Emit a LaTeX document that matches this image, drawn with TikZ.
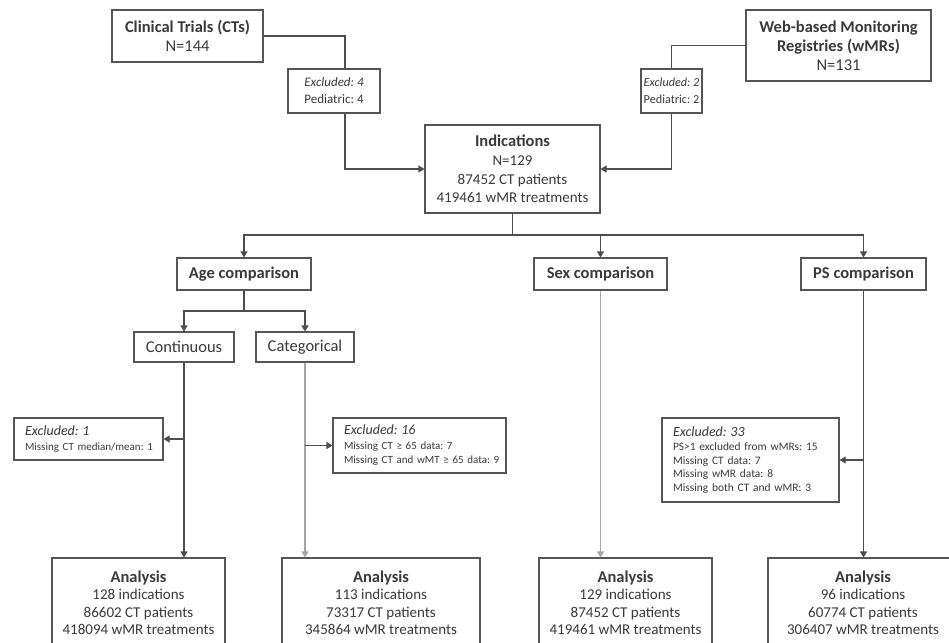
\documentclass[tikz,border=0pt]{standalone}
\usepackage{fontspec}
\setmainfont{Carlito}
\usetikzlibrary{arrows.meta,calc}
\definecolor{txt}{HTML}{3A3A3A}
\definecolor{edge}{HTML}{555555}
\definecolor{wire}{HTML}{4D4D4D}
\definecolor{lite}{HTML}{A6A6A6}
\begin{document}
\frenchspacing
\begin{tikzpicture}[x=1pt,y=-1pt,
  box/.style={draw=edge,line width=1.1pt,fill=white,text=txt,align=center,inner sep=0pt},
  lbox/.style={box,align=left,inner xsep=11pt},
  bigf/.style={font=\fontsize{16.5}{19}\selectfont\frenchspacing},
  link/.style={draw=wire,line width=1.1pt},
  litelink/.style={draw=lite,line width=1.1pt},
  arr/.style={-{Triangle[width=7pt,length=6pt]}}]
\clip (0,0) rectangle (949,642);
\fill[white] (0,0) rectangle (949,642);

% top sources
\node[box,bigf,minimum width=151pt,minimum height=52pt] (ct) at (187.5,36)
  {\textbf{Clinical Trials (CTs)}\\N=144};
\node[box,bigf,minimum width=185pt,minimum height=71pt] (wmr) at (838.5,45.5)
  {\textbf{Web-based Monitoring}\\\textbf{Registries (wMRs)}\\N=131};
\node[box,font=\fontsize{13}{17}\selectfont\frenchspacing,minimum width=92pt,minimum height=44pt] (ex1) at (334,91)
  {\textit{Excluded: 4}\\Pediatric: 4};
\node[box,font=\fontsize{12.2}{17}\selectfont\frenchspacing,minimum width=61pt,minimum height=44pt] (ex2) at (671.5,91)
  {\textit{Excluded: 2}\\Pediatric: 2};

% indications
\node[box,font=\fontsize{15}{18.7}\selectfont\frenchspacing,minimum width=175pt,minimum height=88pt] (ind) at (512.5,169)
  {{\fontsize{16.5}{18.7}\selectfont\bfseries Indications}\\N=129\\87452 CT patients\\419461 wMR treatments};

% comparisons
\node[box,bigf,minimum width=134pt,minimum height=32pt] (age) at (244,274) {\textbf{Age comparison}};
\node[box,bigf,minimum width=133pt,minimum height=32pt] (sex) at (600.5,274) {\textbf{Sex comparison}};
\node[box,bigf,minimum width=125pt,minimum height=32pt] (ps) at (863.5,274) {\textbf{PS comparison}};
\node[box,bigf,minimum width=100pt,minimum height=30pt] (cont) at (184,347) {Continuous};
\node[box,bigf,minimum width=98pt,minimum height=30pt] (cat) at (305,347) {Categorical};

% exclusions
\node[lbox,font=\fontsize{11}{13.5}\selectfont\frenchspacing,text width=127pt,minimum height=42pt] (exa) at (88.5,439)
  {{\fontsize{14}{15}\selectfont\itshape Excluded: 1}\\[1pt]\mbox{Missing CT median/mean: 1}};
\node[lbox,font=\fontsize{11}{14}\selectfont\frenchspacing,text width=151pt,minimum height=55pt] (exb) at (419.5,445.5)
  {{\fontsize{14}{15}\selectfont\itshape Excluded: 16}\\[1pt]Missing CT ≥ 65 data: 7\\\mbox{Missing CT and wMT ≥ 65 data: 9}};
\node[lbox,font=\fontsize{11.4}{13.5}\selectfont\frenchspacing,text width=155pt,minimum height=84pt] (exc) at (750.5,460)
  {{\fontsize{14}{15}\selectfont\itshape Excluded: 33}\\[1pt]PS>1 excluded from wMRs: 15\\Missing CT data: 7\\Missing wMR data: 8\\Missing both CT and wMR: 3};

% analyses
\node[box,font=\fontsize{15}{17.5}\selectfont\frenchspacing,minimum width=173pt,minimum height=90pt] (an1) at (138.5,603)
  {{\fontsize{16.5}{17.5}\selectfont\bfseries Analysis}\\128 indications\\86602 CT patients\\418094 wMR treatments};
\node[box,font=\fontsize{15}{17.5}\selectfont\frenchspacing,minimum width=198pt,minimum height=90pt] (an2) at (381,603)
  {{\fontsize{16.5}{17.5}\selectfont\bfseries Analysis}\\113 indications\\73317 CT patients\\345864 wMR treatments};
\node[box,font=\fontsize{15}{17.5}\selectfont\frenchspacing,minimum width=173pt,minimum height=90pt] (an3) at (625.5,603)
  {{\fontsize{16.5}{17.5}\selectfont\bfseries Analysis}\\129 indications\\87452 CT patients\\419461 wMR treatments};
\node[box,font=\fontsize{15}{17.5}\selectfont\frenchspacing,minimum width=190pt,minimum height=90pt] (an4) at (863,603)
  {{\fontsize{16.5}{17.5}\selectfont\bfseries Analysis}\\96 indications\\60774 CT patients\\306407 wMR treatments};

% connectors: sources -> indications
\draw[link] (ct.east) -| ($(ex1.north)+(11,0)$);
\draw[link,arr] ($(ex1.south)+(11,0)$) |- (ind.west);
\draw[link] (wmr.west) -| (ex2.north);
\draw[link,arr] (ex2.south) |- (ind.east);

% indications -> comparisons
\coordinate (split) at (512.5,235);
\draw[link] (ind.south) -- (split);
\draw[link,arr] (split) -| (age.north);
\draw[link,arr] (split) -| (sex.north);
\draw[link,arr] (split) -| (ps.north);

% age -> continuous / categorical
\coordinate (split2) at (244,311);
\draw[link] (age.south) -- (split2);
\draw[link,arr] (split2) -| (cont.north);
\draw[link,arr] (split2) -| (cat.north);

% to analyses
\draw[link,arr] (cont.south) -- (cont.south |- an1.north);
\draw[link,arr] (cont.south |- exa.east) -- (exa.east);
\draw[litelink,arr] (cat.south) -- (cat.south |- an2.north);
\draw[link,arr] (cat.south |- exb.west) -- (exb.west);
\draw[litelink,arr] (sex.south) -- (sex.south |- an3.north);
\draw[link,arr] (ps.south) -- (ps.south |- an4.north);
\draw[link,arr] (ps.south |- exc.east) -- (exc.east);
\end{tikzpicture}
\end{document}
